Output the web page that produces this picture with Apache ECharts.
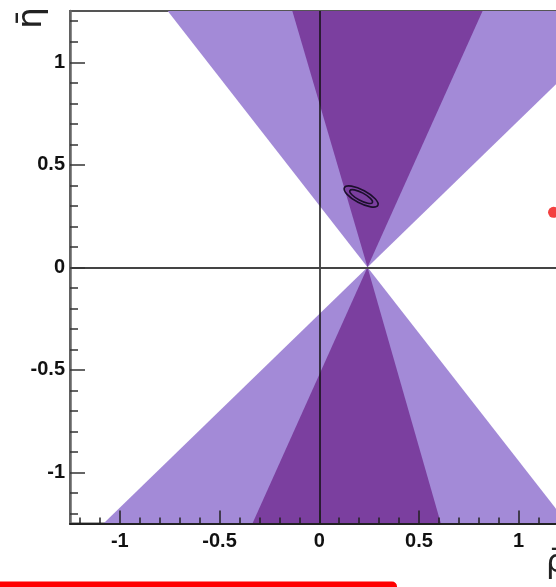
<!DOCTYPE html>
<html>
<head>
<meta charset="utf-8">
<script src="https://cdn.jsdelivr.net/npm/echarts@6/dist/echarts.min.js"></script>
<style>
  html, body { margin: 0; padding: 0; background: #fff; }
  #chart { width: 556px; height: 587px; }
</style>
</head>
<body>
<div id="chart"></div>
<script>
// axis ranges and ticks
const rhoRange = [-1.25, 1.25];
const etaRange = [-1.25, 1.25];
const majorTicks = [-1, -0.5, 0, 0.5, 1];
const minorTicks = [-1.2, -1.1, -0.9, -0.8, -0.7, -0.6, -0.4, -0.3, -0.2, -0.1,
                    0.1, 0.2, 0.3, 0.4, 0.6, 0.7, 0.8, 0.9, 1.1, 1.2];

// wedge corners (rho, eta): apex, then the two far corners
const lightWedges = [
    [[0.242, 0], [-0.76, 1.25], [1.566, 1.25]],
    [[0.242, 0], [-1.082, -1.25], [1.245, -1.25]]
];
const darkWedges = [
    [[0.242, 0], [-0.135, 1.25], [0.819, 1.25]],
    [[0.242, 0], [-0.335, -1.25], [0.61, -1.25]]
];

// contours: center rho, center eta, semi-major (rho units), semi-minor (eta units), angle deg
const contours = [
    [0.21, 0.345, 0.095, 0.032, -28],
    [0.21, 0.345, 0.064, 0.019, -28]
];

const redPoint = [[1.175, 0.268]];

const chart = echarts.init(document.getElementById('chart'), null, {renderer: 'canvas'});

function wedgeSeries(list, color, z) {
    return {
        type: 'custom',
        z: z,
        silent: true,
        data: list.map(w => [].concat(...w)),
        renderItem: function (params, api) {
            let pts = [];
            for (let i = 0; i < 3; i++) {
                pts.push(api.coord([api.value(i * 2), api.value(i * 2 + 1)]));
            }
            return {
                type: 'polygon',
                shape: {points: pts},
                style: {fill: color, stroke: null}
            };
        }
    };
}

const labelFont = {
    fontFamily: 'Liberation Sans',
    fontWeight: 'bold',
    fontSize: 20,
    color: '#111'
};

chart.setOption({
    animation: false,
    grid: {
        left: 70,
        top: 11,
        right: -12.5,
        bottom: 63.5,
        outerBoundsMode: 'none',
        show: true,
        borderColor: '#555',
        borderWidth: 2,
        backgroundColor: 'transparent'
    },
    xAxis: [
        {
            type: 'value',
            min: rhoRange[0],
            max: rhoRange[1],
            position: 'bottom',
            z: 10,
            axisLine: {show: true, onZero: false, lineStyle: {color: '#222', width: 2}},
            axisTick: {show: true, inside: true, length: 13, customValues: majorTicks,
                lineStyle: {color: '#222', width: 1.5}},
            axisLabel: Object.assign({customValues: majorTicks, margin: 8}, labelFont),
            splitLine: {show: false}
        },
        {
            type: 'value',
            min: rhoRange[0],
            max: rhoRange[1],
            position: 'bottom',
            z: 10,
            axisLine: {show: false, onZero: false},
            axisTick: {show: true, inside: true, length: 6, customValues: minorTicks,
                lineStyle: {color: '#222', width: 1.5}},
            axisLabel: {show: false},
            splitLine: {show: false}
        }
    ],
    yAxis: [
        {
            type: 'value',
            min: etaRange[0],
            max: etaRange[1],
            position: 'left',
            z: 10,
            axisLine: {show: true, onZero: false, lineStyle: {color: '#666', width: 2.5}},
            axisTick: {show: true, inside: true, length: 15, customValues: majorTicks,
                lineStyle: {color: '#333', width: 1.5}},
            axisLabel: Object.assign({customValues: majorTicks, margin: 5}, labelFont),
            splitLine: {show: false}
        },
        {
            type: 'value',
            min: etaRange[0],
            max: etaRange[1],
            position: 'left',
            z: 10,
            axisLine: {show: false, onZero: false},
            axisTick: {show: true, inside: true, length: 8, customValues: minorTicks,
                lineStyle: {color: '#333', width: 1.5}},
            axisLabel: {show: false},
            splitLine: {show: false}
        }
    ],
    series: [
        wedgeSeries(lightWedges, '#a38ad7', 1),
        wedgeSeries(darkWedges, '#7b3f9f', 2),
        {
            type: 'line',
            data: [],
            z: 3,
            markLine: {
                silent: true,
                symbol: 'none',
                label: {show: false},
                animation: false,
                data: [
                    {xAxis: 0, lineStyle: {color: '#111', width: 1.5, type: 'solid'}},
                    {yAxis: 0, lineStyle: {color: '#444', width: 2, type: 'solid'}}
                ]
            }
        },
        {
            type: 'custom',
            z: 4,
            silent: true,
            data: contours,
            renderItem: function (params, api) {
                let c = api.coord([api.value(0), api.value(1)]);
                let rx = api.size([api.value(2), 0])[0];
                let ry = api.size([0, api.value(3)])[1];
                return {
                    type: 'ellipse',
                    x: c[0],
                    y: c[1],
                    rotation: api.value(4) * Math.PI / 180,
                    shape: {cx: 0, cy: 0, rx: rx, ry: ry},
                    style: {fill: null, stroke: '#1c0f2c', lineWidth: 1.6}
                };
            }
        },
        {
            type: 'scatter',
            z: 5,
            data: redPoint,
            symbol: 'circle',
            symbolSize: 11,
            itemStyle: {color: '#f01010'}
        }
    ],
    graphic: [
        {
            type: 'text',
            x: 32,
            y: 18,
            rotation: Math.PI / 2,
            style: {
                text: 'η\u0304',
                fontFamily: 'DejaVu Sans',
                fontSize: 34,
                fill: '#222',
                align: 'center',
                verticalAlign: 'middle'
            }
        },
        {
            type: 'text',
            left: 546,
            top: 548,
            style: {
                text: 'ρ\u0304',
                fontFamily: 'DejaVu Sans',
                fontSize: 32,
                fill: '#222'
            }
        },
        {
            type: 'rect',
            shape: {x: -6, y: 581.5, width: 403, height: 20, r: 5},
            style: {fill: '#ff0000'}
        }
    ]
});
</script>
</body>
</html>
